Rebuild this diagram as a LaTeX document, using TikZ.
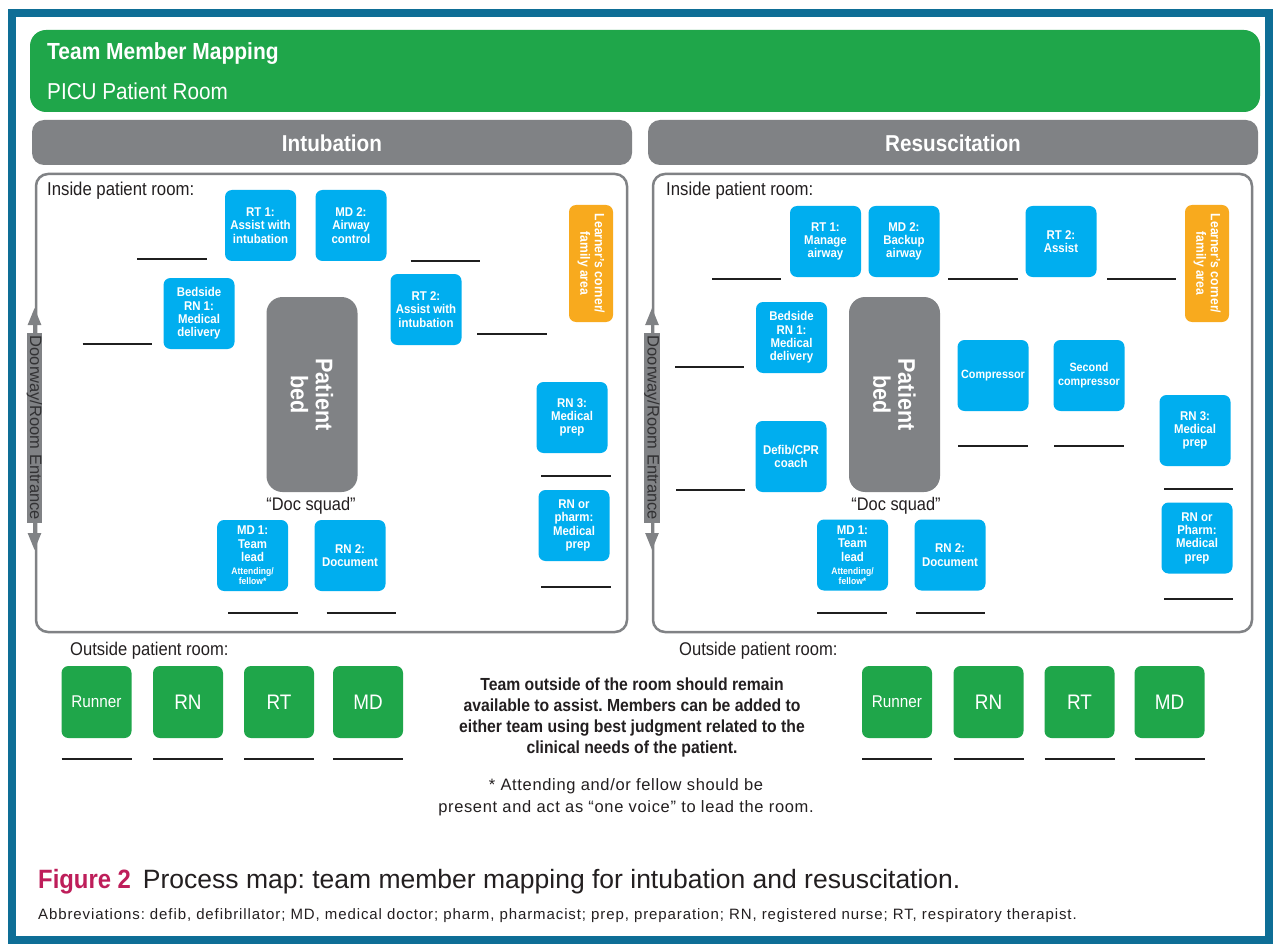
\documentclass[tikz,border=0pt]{standalone}
\usepackage{fontspec}
\setmainfont{Liberation Sans}[FakeStretch=0.9]
\newfontfamily\widefont{Liberation Sans}
\newfontfamily\abbrfont{Liberation Sans}[LetterSpace=4]
\newfontfamily\abbrwide{Liberation Sans}[LetterSpace=6]
\usetikzlibrary{arrows.meta}
\definecolor{frameblue}{RGB}{14,110,150}
\definecolor{hdrgreen}{RGB}{31,166,74}
\definecolor{bargray}{RGB}{128,130,133}
\definecolor{boxcyan}{RGB}{0,174,239}
\definecolor{lorange}{RGB}{248,170,30}
\definecolor{figred}{RGB}{190,30,90}
\definecolor{txtdark}{RGB}{35,31,32}
\definecolor{doortxt}{RGB}{50,50,52}
\newcommand\myfs[2]{\fontsize{#1}{#2}\selectfont}
\frenchspacing
\tikzset{
 bbox/.style={fill=boxcyan, rounded corners=7pt, text=white, font=\bfseries\myfs{12.7}{13.3}, align=center, minimum width=71pt, minimum height=71pt, inner sep=1pt},
 obox/.style={fill=lorange, rounded corners=7pt, text=white, font=\bfseries\myfs{13.5}{14.5}, align=center, rotate=-90, minimum width=117pt, minimum height=44pt, inner sep=1pt},
 bedbox/.style={fill=bargray, rounded corners=16pt, text=white, font=\bfseries\myfs{24}{25}, align=center, rotate=-90, minimum width=195pt, minimum height=91pt},
 gbox/.style={fill=hdrgreen, rounded corners=7pt, text=white, minimum width=70pt, minimum height=72pt, inner sep=0pt},
 blank/.style={draw=black!88, line width=2.6pt},
 roomframe/.style={draw=bargray, line width=2.5pt, rounded corners=12pt},
 doorarrow/.style={draw=bargray, line width=2.5pt, {Triangle[length=17pt,width=13pt]}-{Triangle[length=17pt,width=13pt]}},
 doorbar/.style={fill=bargray, rotate=-90, minimum width=190pt, minimum height=15pt, inner sep=0pt, font=\widefont\myfs{16.5}{16.5}, text=doortxt},
 lbl/.style={text=txtdark, inner sep=0pt},
}
\begin{document}
\begin{tikzpicture}[x=1pt,y=-1pt]
\useasboundingbox (0,0) rectangle (1280,944);
\fill[white] (0,0) rectangle (1280,944);
\draw[frameblue, line width=7.5pt] (12,13) rectangle (1269,940);
% header
\fill[hdrgreen, rounded corners=16pt] (30,30) rectangle (1260,112);
\node[anchor=base west, text=white, inner sep=0pt, font=\bfseries\myfs{23.3}{23}] (title) at (47,60) {Team Member Mapping};
\node[anchor=base west, text=white, inner sep=0pt, font=\myfs{23}{23}] (subtitle) at (47,100) {PICU Patient Room};
% section bars
\fill[bargray, rounded corners=12pt] (32,120) rectangle (632,165);
\fill[bargray, rounded corners=12pt] (648,120) rectangle (1258,165);
\node[anchor=base, text=white, inner sep=0pt, font=\bfseries\myfs{23}{23}] (intub) at (332,152) {Intubation};
\node[anchor=base, text=white, inner sep=0pt, font=\bfseries\myfs{23}{23}] (resus) at (953,152) {Resuscitation};
% rooms
\draw[roomframe] (36,174) rectangle (627,632);
\draw[roomframe] (653,174) rectangle (1252,632);
\node[lbl, anchor=base west, font=\myfs{18.6}{18.6}] (insideL) at (47,196) {Inside patient room:};
\node[lbl, anchor=base west, font=\myfs{18.6}{18.6}] (insideR) at (666,196) {Inside patient room:};
% doorways
\draw[doorarrow] (34.5,550) -- (34.5,308);
\node[doorbar] (doorL) at (34.5,428) {Doorway/Room Entrance};
\draw[doorarrow] (652,550) -- (652,308);
\node[doorbar] (doorR) at (652,428) {Doorway/Room Entrance};
% ---------- left room ----------
\node[bbox] (rt1L) at (260.5,225.5) {RT 1:\\Assist with\\intubation};
\node[bbox] (md2L) at (351,225.5) {MD 2:\\Airway\\control};
\node[bbox] (rn1L) at (199,313.5) {Bedside\\RN 1:\\Medical\\delivery};
\node[bbox] (rt2L) at (426,309.5) {RT 2:\\Assist with\\intubation};
\node[obox] (lcL) at (591,263.5) {Learner’s corner/\\family area};
\node[bbox] (rn3L) at (572,417.5) {RN 3:\\Medical\\prep};
\node[bedbox] (bedL) at (312,394.5) {Patient\\bed};
\node[bbox] (rnpL) at (574,525.5) {RN or\\pharm:\\Medical\\\hspace*{8pt}prep};
\node[bbox] (md1L) at (252.6,555.5) {MD 1:\\Team\\lead\\[0pt]{\myfs{9.5}{10}Attending/}\\[-3.5pt]{\myfs{9.5}{10}fellow*}};
\node[bbox] (rn2L) at (350,555.5) {RN 2:\\Document};
\node[lbl, anchor=base, font=\myfs{18.2}{18.2}] (docL) at (311,510) {“Doc squad”};
\draw[blank] (137,259) -- (207,259);
\draw[blank] (82.5,344) -- (152,344);
\draw[blank] (410.5,261) -- (480,261);
\draw[blank] (477,334) -- (546.5,334);
\draw[blank] (541,476) -- (610.5,476);
\draw[blank] (541,587) -- (610.5,587);
\draw[blank] (228,613) -- (297.5,613);
\draw[blank] (326.7,613) -- (396,613);
% ---------- right room ----------
\node[bbox] (rt1R) at (825.5,241.5) {RT 1:\\Manage\\airway};
\node[bbox] (md2R) at (904,241.5) {MD 2:\\Backup\\airway};
\node[bbox] (rt2R) at (1061,241.5) {RT 2:\\Assist};
\node[obox] (lcR) at (1207,263.5) {Learner’s corner/\\family area};
\node[bbox] (rn1R) at (791.5,337.5) {Bedside\\RN 1:\\Medical\\delivery};
\node[bedbox] (bedR) at (894.5,394.5) {Patient\\bed};
\node[bbox, font=\bfseries\myfs{12}{13.5}] (compR) at (993,375.5) {Compressor};
\node[bbox, font=\bfseries\myfs{12}{13.5}] (comp2R) at (1089,375.5) {Second\\compressor};
\node[bbox] (rn3R) at (1195,430.5) {RN 3:\\Medical\\prep};
\node[bbox] (defR) at (791,456.5) {Defib/CPR\\coach};
\node[bbox] (md1R) at (852.5,555) {MD 1:\\Team\\lead\\[0pt]{\myfs{9.5}{10}Attending/}\\[-3.5pt]{\myfs{9.5}{10}fellow*}};
\node[bbox] (rn2R) at (950,555) {RN 2:\\Document};
\node[bbox] (rnpR) at (1197,538) {RN or\\Pharm:\\Medical\\prep};
\node[lbl, anchor=base, font=\myfs{18.2}{18.2}] (docR) at (896,510) {“Doc squad”};
\draw[blank] (712,279) -- (781,279);
\draw[blank] (948,279) -- (1018,279);
\draw[blank] (1107,279) -- (1176,279);
\draw[blank] (675,367) -- (744,367);
\draw[blank] (958,446) -- (1028,446);
\draw[blank] (1054,446) -- (1124,446);
\draw[blank] (676,490) -- (745,490);
\draw[blank] (1164,489) -- (1233,489);
\draw[blank] (1164,599) -- (1233,599);
\draw[blank] (817,613) -- (887,613);
\draw[blank] (916,613) -- (985,613);
% ---------- outside ----------
\node[lbl, anchor=base west, font=\myfs{18.4}{18.4}] (outL) at (70,655) {Outside patient room:};
\node[lbl, anchor=base west, font=\myfs{18.4}{18.4}] (outR) at (679,655) {Outside patient room:};
\node[gbox, font=\myfs{17}{17}] (runL) at (96.5,702) {Runner};
\node[gbox, font=\myfs{21}{21}] (rnL) at (188,702) {RN};
\node[gbox, font=\myfs{21}{21}] (rtL) at (279,702) {RT};
\node[gbox, font=\myfs{21}{21}] (mdL) at (368,702) {MD};
\node[gbox, font=\myfs{17}{17}] (runR) at (897,702) {Runner};
\node[gbox, font=\myfs{21}{21}] (rnR) at (988.5,702) {RN};
\node[gbox, font=\myfs{21}{21}] (rtR) at (1079.5,702) {RT};
\node[gbox, font=\myfs{21}{21}] (mdR) at (1169.5,702) {MD};
\foreach \cx in {96.5,188,279,368,897,988.5,1079.5,1169.5}{
  \draw[blank] (\cx-35,759) -- (\cx+35,759);
}
\node[lbl, anchor=north, align=center, font=\bfseries\myfs{17.5}{20.8}] (note) at (632,678) {Team outside of the room should remain\\available to assist. Members can be added to\\either team using best judgment related to the\\clinical needs of the patient.};
\node[lbl, anchor=north, align=center, font=\abbrfont\myfs{16.5}{22}] (foot) at (626,778) {* Attending and/or fellow should be\\present and act as “one voice” to lead the room.};
% caption
\node[lbl, anchor=base west, font=\widefont\myfs{26.5}{26.5}] (cap) at (38,888) {\textcolor{figred}{\normalfont\bfseries\myfs{26.5}{26.5}Figure 2}\hspace{12pt}Process map: team member mapping for intubation and resuscitation.};
\node[lbl, anchor=base west, font=\abbrwide\myfs{15}{15}] (abbr) at (38,919) {Abbreviations: defib, defibrillator; MD, medical doctor; pharm, pharmacist; prep, preparation; RN, registered nurse; RT, respiratory therapist.};
\end{tikzpicture}
\end{document}
